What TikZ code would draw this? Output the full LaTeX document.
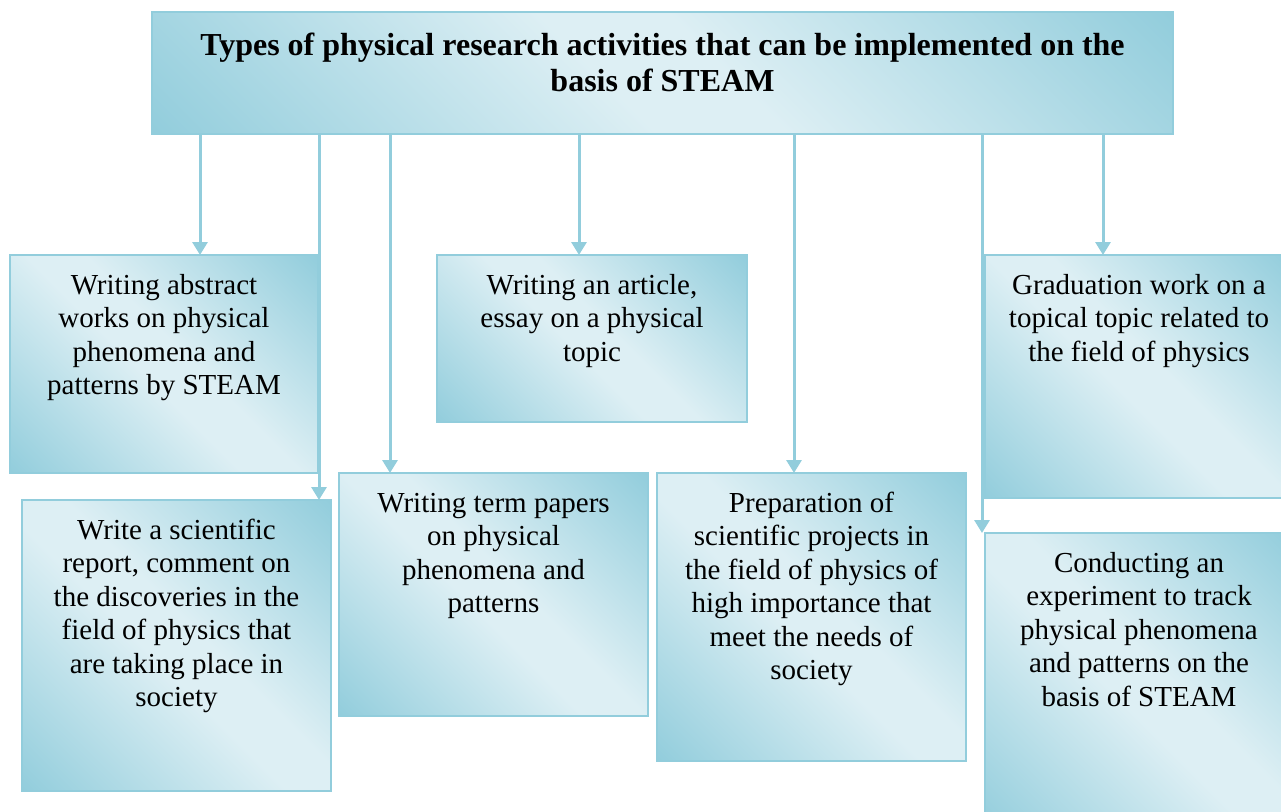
\documentclass[tikz,border=0pt]{standalone}
\usepackage{fontspec}
\setmainfont{Liberation Serif}
\usetikzlibrary{arrows.meta}
\definecolor{bdark}{RGB}{146,205,220}
\definecolor{blight}{RGB}{221,239,244}
\definecolor{bline}{RGB}{146,205,220}
\pgfdeclarehorizontalshading{diagsh}{100bp}{color(0bp)=(bdark); color(14.6bp)=(bdark); color(46bp)=(blight); color(54bp)=(blight); color(85.4bp)=(bdark); color(100bp)=(bdark)}
\newcommand{\boxtext}[4]{\parbox[t][#2][t]{#1}{\centering\rule{0pt}{#3}#4\par}}
\tikzset{
  box/.style={draw=bline, line width=2.5pt, inner sep=0pt, outer sep=0pt,
    anchor=north west, shading=diagsh, shading angle=45,
    font=\fontsize{29}{33.5}\selectfont},
  arr/.style={draw=bline, line width=3pt, -{Triangle[width=15pt,length=13pt]}}
}
\begin{document}
\begin{tikzpicture}[x=1pt,y=-1pt]
\clip (0,0) rectangle (1281,811);
\node[box, font=\bfseries\fontsize{32}{36}\selectfont] (top) at (152,12)
  {\boxtext{1021pt}{122pt}{43pt}{Types of physical research activities that can be implemented on the\\basis of STEAM}};
\node[box] (b1) at (10,255) {\boxtext{308pt}{218pt}{39pt}{Writing abstract\\works on physical\\phenomena and\\patterns by STEAM}};
\node[box] (b2) at (22,500) {\boxtext{309pt}{291pt}{39pt}{Write a scientific\\report, comment on\\the discoveries in the\\field of physics that\\are taking place in\\society}};
\node[box] (b3) at (437,255) {\boxtext{310pt}{167pt}{39pt}{Writing an article,\\essay on a physical\\topic}};
\node[box] (b4) at (339,473) {\boxtext{309pt}{243pt}{39pt}{Writing term papers\\on physical\\phenomena and\\patterns}};
\node[box] (b5) at (657,473) {\boxtext{309pt}{288pt}{39pt}{Preparation of\\scientific projects in\\the field of physics of\\high importance that\\meet the needs of\\society}};
\node[box] (b6) at (985,255) {\boxtext{308pt}{243pt}{39pt}{Graduation work on a\\topical topic related to\\the field of physics}};
\node[box] (b7) at (985,533) {\boxtext{308pt}{300pt}{39pt}{Conducting an\\experiment to track\\physical phenomena\\and patterns on the\\basis of STEAM}};
\coordinate (x1) at (200,0);
\coordinate (x2) at (319,0);
\coordinate (x3) at (390,0);
\coordinate (x4) at (579,0);
\coordinate (x5) at (794,0);
\coordinate (x6) at (982,0);
\coordinate (x7) at (1103,0);
\draw[arr] (top.south -| x1) -- (b1.north -| x1);
\draw[arr] (top.south -| x2) -- (b2.north -| x2);
\draw[arr] (top.south -| x3) -- (b4.north -| x3);
\draw[arr] (top.south -| x4) -- (b3.north -| x4);
\draw[arr] (top.south -| x5) -- (b5.north -| x5);
\draw[arr] (top.south -| x6) -- (b7.north -| x6);
\draw[arr] (top.south -| x7) -- (b6.north -| x7);
\end{tikzpicture}
\end{document}
